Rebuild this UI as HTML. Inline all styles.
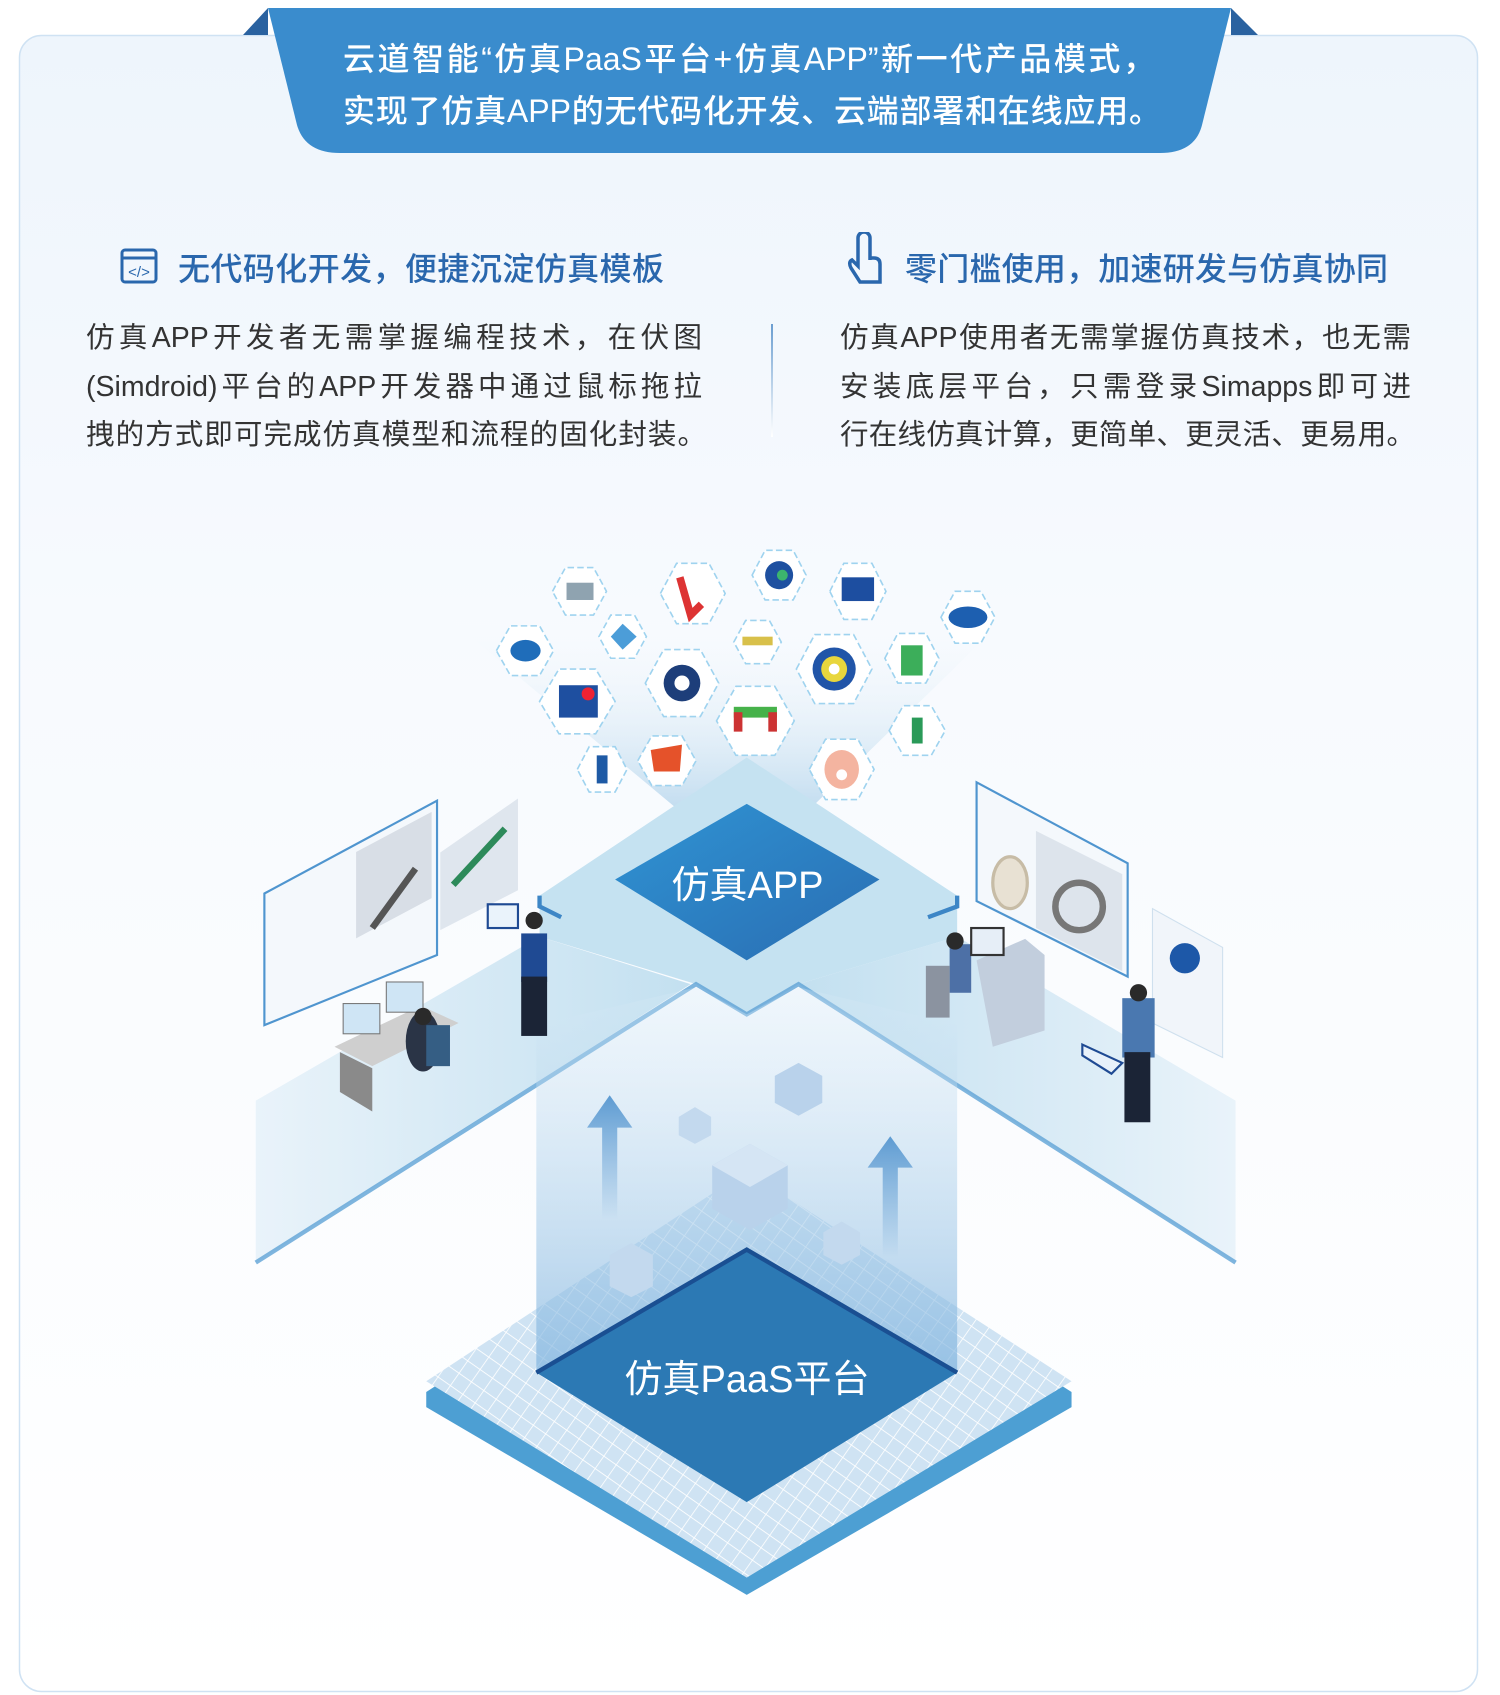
<!DOCTYPE html>
<html><head><meta charset="utf-8">
<style>
html,body{margin:0;padding:0;background:#fff;}
body{width:1500px;height:1695px;position:relative;overflow:hidden;font-family:"Liberation Sans","Noto Sans CJK SC",sans-serif;}
.t{position:absolute;white-space:nowrap;}
.j{position:absolute;white-space:nowrap;text-align:justify;text-align-last:justify;}
</style></head><body>
<svg width="1500" height="1695" viewBox="0 0 1500 1695" style="position:absolute;left:0;top:0">
<defs>
<linearGradient id="card" x1="0" y1="0" x2="0" y2="1"><stop offset="0" stop-color="#eef5fc"/><stop offset="0.35" stop-color="#f7fafe"/><stop offset="1" stop-color="#ffffff"/></linearGradient>
<linearGradient id="fan" x1="0" y1="0" x2="0" y2="1"><stop offset="0" stop-color="#ffffff" stop-opacity="0"/><stop offset="1" stop-color="#bcd9ee"/></linearGradient>
<linearGradient id="wingL" x1="0" y1="0" x2="1" y2="0"><stop offset="0" stop-color="#e9f3fa"/><stop offset="1" stop-color="#c3e0f0"/></linearGradient>
<linearGradient id="wingR" x1="1" y1="0" x2="0" y2="0"><stop offset="0" stop-color="#e9f3fa"/><stop offset="1" stop-color="#c3e0f0"/></linearGradient>
<linearGradient id="col" x1="0" y1="0" x2="0" y2="1"><stop offset="0" stop-color="#d7eaf6" stop-opacity="0.3"/><stop offset="1" stop-color="#7fb3de" stop-opacity="0.7"/></linearGradient>
<linearGradient id="app" x1="0" y1="0" x2="1" y2="1"><stop offset="0" stop-color="#2f94d4"/><stop offset="1" stop-color="#2a6db2"/></linearGradient>
<linearGradient id="arr" x1="0" y1="0" x2="0" y2="1"><stop offset="0" stop-color="#5d9bd2"/><stop offset="1" stop-color="#5d9bd2" stop-opacity="0"/></linearGradient>
<pattern id="grid" width="14" height="14" patternUnits="userSpaceOnUse" patternTransform="rotate(35)"><rect width="14" height="14" fill="#cfe3f3"/><path d="M0 0H14M0 0V14" stroke="#fff" stroke-width="1.5"/></pattern>
</defs>
<rect x="19.5" y="35.5" width="1458" height="1656" rx="22" fill="url(#card)" stroke="#cfe2f3" stroke-width="1.5"/>
<polygon points="243,35 268,8 268,35" fill="#2a62a0"/>
<polygon points="1258,35 1231,8 1231,35" fill="#2a62a0"/>
<path d="M268,8 H1231 L1202,125 Q1195,153 1160,153 H340 Q305,153 297,125 Z" fill="#3a8ccd"/>
<g transform="scale(1.0791)">
<polygon points="400,560 945,560 740,760 640,760" fill="url(#fan)"/>
<polygon points="237,1020 500,868 640,912 237,1170" fill="url(#wingL)"/>
<polygon points="1145,1020 887,868 740,912 1145,1170" fill="url(#wingR)"/>
<polygon points="500,830 692,702 887,830 887,868 740,912 692,940 645,912 500,868" fill="#c5e2f1"/>
<path d="M237,1170 L645,912 L692,940 L740,912 L1145,1170" fill="none" stroke="#5fa2d6" stroke-width="4" stroke-opacity="0.8"/>
<path d="M500,830 L500,840 L520,850 M887,830 L887,840 L860,850" fill="none" stroke="#3d86c6" stroke-width="4"/>
<polygon points="692,745 815,815 692,890 570,815" fill="url(#app)"/>
<polygon points="692,1098 993,1290 993,1304 692,1478 395,1304 395,1290" fill="#4d9fd3"/>
<polygon points="692,1085 993,1280 692,1462 395,1280" fill="url(#grid)"/>
<polygon points="497,950 645,915 692,940 740,915 887,950 887,1272 692,1158 497,1272" fill="url(#col)"/>
<polygon points="692,1158 887,1272 692,1392 497,1272" fill="#2c79b4"/>
<path d="M497,1272 L692,1158 L887,1272" fill="none" stroke="#1a4f92" stroke-width="4"/>
<polygon points="695,1060 730,1080 730,1120 695,1140 660,1120 660,1080" fill="#b9d2eb"/>
<polygon points="695,1060 730,1080 695,1100 660,1080" fill="#d5e5f4"/>
<polygon points="740,985 762,997 762,1022 740,1034 718,1022 718,997" fill="#b9d2eb"/>
<polygon points="644,1026 659,1035 659,1052 644,1060 629,1052 629,1035" fill="#c3d9ee"/>
<polygon points="585,1152 605,1163 605,1192 585,1202 565,1192 565,1163" fill="#c3d9ee"/>
<polygon points="780,1132 797,1142 797,1163 780,1172 763,1163 763,1142" fill="#c3d9ee"/>
<polygon points="565,1015 586,1045 572,1045 572,1130 558,1130 558,1045 544,1045" fill="url(#arr)"/>
<polygon points="825,1053 846,1082 832,1082 832,1165 818,1165 818,1082 804,1082" fill="url(#arr)"/>
<polygon points="245,828 405,742 405,885 245,950" fill="#f4f8fc" stroke="#4f95cf" stroke-width="2"/>
<rect x="330" y="790" width="70" height="80" fill="#d8dee6" transform="skewY(-28) translate(0,175)"/>
<polygon points="408,790 480,740 480,825 408,862" fill="#dfe6ee"/>
<line x1="420" y1="820" x2="468" y2="768" stroke="#2d8a5a" stroke-width="6"/>
<line x1="345" y1="860" x2="385" y2="805" stroke="#555" stroke-width="6"/>
<polygon points="310,970 390,932 425,948 345,988" fill="#cfcfcf"/>
<polygon points="315,975 345,990 345,1030 315,1012" fill="#8a8a8a"/>
<rect x="318" y="930" width="34" height="28" fill="#cfe5f5" stroke="#777"/>
<rect x="358" y="910" width="34" height="28" fill="#cfe5f5" stroke="#777"/>
<ellipse cx="392" cy="965" rx="16" ry="28" fill="#2a3446"/>
<rect x="395" y="950" width="22" height="38" fill="#355e84"/>
<circle cx="392" cy="942" r="8" fill="#2a2a2a"/>
<rect x="483" y="865" width="24" height="45" fill="#1f4a93"/>
<rect x="483" y="905" width="24" height="55" fill="#1b2436"/>
<circle cx="495" cy="853" r="8" fill="#2a2a2a"/>
<rect x="452" y="838" width="28" height="22" fill="#eaf3fb" stroke="#1f4a93" stroke-width="2"/>
<polygon points="905,725 1045,800 1045,905 905,835" fill="#f4f8fc" stroke="#4f95cf" stroke-width="2"/>
<polygon points="960,770 1040,810 1040,900 960,860" fill="#dde4ec"/>
<circle cx="1000" cy="840" r="22" fill="none" stroke="#777" stroke-width="6"/>
<ellipse cx="936" cy="818" rx="16" ry="24" fill="#e8e1d3" stroke="#c7bca6" stroke-width="3"/>
<polygon points="1068,842 1133,878 1133,980 1068,948" fill="#f1f5fa" stroke="#cfe0ee"/>
<circle cx="1098" cy="888" r="14" fill="#1d58a8"/>
<polygon points="905,890 950,870 968,885 968,955 920,970" fill="#c2cedd"/>
<rect x="880" y="875" width="20" height="45" fill="#4d70a6"/>
<circle cx="885" cy="872" r="8" fill="#2a2a2a"/>
<rect x="858" y="895" width="22" height="48" fill="#8b93a0"/>
<rect x="900" y="860" width="30" height="25" fill="#e6eef7" stroke="#333" stroke-width="2"/>
<rect x="1040" y="925" width="30" height="55" fill="#4a78b0"/>
<rect x="1042" y="975" width="24" height="65" fill="#1b2436"/>
<circle cx="1055" cy="920" r="8" fill="#2a2a2a"/>
<polygon points="1003,968 1040,985 1030,995 1003,978" fill="#e8f1fa" stroke="#1f4a93" stroke-width="2"/>
<g fill="#fff" stroke="#9fd3ef" stroke-width="1.5" stroke-dasharray="6 3">
<polygon points="512,548 524,526 550,526 562,548 550,570 524,570"/>
<polygon points="612,550 627,522 657,522 672,550 657,578 627,578"/>
<polygon points="697,533 709,510 735,510 747,533 735,556 709,556"/>
<polygon points="769,548 782,522 808,522 821,548 808,574 782,574"/>
<polygon points="872,572 885,548 909,548 922,572 909,596 885,596"/>
<polygon points="460,603 473,580 500,580 513,603 500,626 473,626"/>
<polygon points="555,590 566,570 588,570 599,590 588,610 566,610"/>
<polygon points="680,595 691,575 713,575 724,595 713,615 691,615"/>
<polygon points="738,620 755,588 791,588 808,620 791,652 755,652"/>
<polygon points="820,610 832,587 858,587 870,610 858,633 832,633"/>
<polygon points="500,650 518,620 552,620 570,650 552,680 518,680"/>
<polygon points="598,633 615,602 649,602 666,633 649,664 615,664"/>
<polygon points="664,668 682,636 718,636 736,668 718,700 682,700"/>
<polygon points="824,677 837,654 863,654 876,677 863,700 837,700"/>
<polygon points="535,713 546,692 570,692 581,713 570,734 546,734"/>
<polygon points="591,705 604,682 632,682 645,705 632,728 604,728"/>
<polygon points="750,713 765,685 795,685 810,713 795,741 765,741"/>
</g>
<g>
<rect x="525" y="540" width="25" height="16" fill="#8fa3b0"/>
<path d="M630,535 L640,570 L650,560" stroke="#d33" stroke-width="7" fill="none"/>
<circle cx="722" cy="533" r="13" fill="#1e50a0"/><circle cx="725" cy="533" r="5" fill="#3cb46e"/>
<rect x="780" y="535" width="30" height="22" fill="#1d4ea0"/>
<ellipse cx="897" cy="572" rx="18" ry="10" fill="#1d5fb0"/>
<ellipse cx="487" cy="603" rx="14" ry="10" fill="#1f6dba"/>
<polygon points="566,590 577,578 590,590 577,602" fill="#4c9dd8"/>
<rect x="688" y="590" width="28" height="8" fill="#d8c04a"/>
<circle cx="773" cy="620" r="20" fill="#2155a8"/><circle cx="773" cy="620" r="12" fill="#e8d63c"/><circle cx="773" cy="620" r="5" fill="#fff"/>
<rect x="835" y="598" width="20" height="28" fill="#3cae5a"/>
<rect x="518" y="635" width="36" height="30" fill="#1e4fa0"/><circle cx="545" cy="643" r="6" fill="#e23"/>
<circle cx="632" cy="633" r="17" fill="#1d3e7a"/><circle cx="632" cy="633" r="7" fill="#fff"/>
<rect x="680" y="655" width="40" height="10" fill="#46b24a"/><rect x="680" y="660" width="8" height="18" fill="#c33"/><rect x="712" y="660" width="8" height="18" fill="#c33"/>
<rect x="845" y="665" width="10" height="24" fill="#2a9a58"/>
<rect x="553" y="700" width="10" height="26" fill="#1e5aa5"/>
<polygon points="603,695 632,690 630,715 606,715" fill="#e5522a"/>
<ellipse cx="780" cy="713" rx="16" ry="18" fill="#f4b4a0"/><circle cx="780" cy="718" r="5" fill="#fff"/>
</g>
</g>
</svg>

<div class="j" style="left:343px;width:812px;top:33px;font-size:32px;line-height:52px;color:#fff;font-weight:500">云道智能“仿真PaaS平台+仿真APP”新一代产品模式，</div>
<div class="j" style="left:343px;width:818px;top:85px;font-size:32px;line-height:52px;color:#fff;font-weight:500">实现了仿真APP的无代码化开发、云端部署和在线应用。</div>

<svg style="position:absolute;left:119px;top:246px" width="42" height="40" viewBox="0 0 42 40"><rect x="3" y="4" width="34" height="32" rx="3" fill="none" stroke="#2a67ad" stroke-width="3"/><line x1="3" y1="12" x2="37" y2="12" stroke="#2a67ad" stroke-width="3"/><text x="20" y="31" font-size="15" text-anchor="middle" fill="#2a67ad" font-family="Liberation Sans">&lt;/&gt;</text></svg>
<div class="j" style="left:178px;width:486px;top:244px;font-size:32px;color:#2a67ad;font-weight:500">无代码化开发，便捷沉淀仿真模板</div>
<svg style="position:absolute;left:846px;top:232px" width="40" height="54" viewBox="0 0 40 54"><path d="M12 6 a6 6 0 0 1 12 0 V28 M12 6 V34 L6 28 Q2 30 5 36 L14 50 H34 V32 Q34 26 28 26 H24" fill="none" stroke="#2a67ad" stroke-width="3.5"/></svg>
<div class="j" style="left:905px;width:483px;top:244px;font-size:32px;color:#2a67ad;font-weight:500">零门槛使用，加速研发与仿真协同</div>

<div class="j" style="left:86px;width:616px;top:314px;font-size:28.5px;line-height:48.5px;color:#333">仿真APP开发者无需掌握编程技术，在伏图</div>
<div class="j" style="left:86px;width:616px;top:362.5px;font-size:28.5px;line-height:48.5px;color:#333">(Simdroid)平台的APP开发器中通过鼠标拖拉</div>
<div class="j" style="left:86px;width:620px;top:411px;font-size:28.5px;line-height:48.5px;color:#333">拽的方式即可完成仿真模型和流程的固化封装。</div>
<div style="position:absolute;left:771px;top:324px;width:2px;height:113px;background:linear-gradient(#6b9ed0,#fff)"></div>
<div class="j" style="left:840px;width:571px;top:314px;font-size:28.5px;line-height:48.5px;color:#333">仿真APP使用者无需掌握仿真技术，也无需</div>
<div class="j" style="left:840px;width:571px;top:362.5px;font-size:28.5px;line-height:48.5px;color:#333">安装底层平台，只需登录Simapps即可进</div>
<div class="j" style="left:840px;width:575px;top:411px;font-size:28.5px;line-height:48.5px;color:#333">行在线仿真计算，更简单、更灵活、更易用。</div>

<div class="t" style="left:600px;width:295px;text-align:center;top:854px;font-size:38px;color:#fff">仿真APP</div>
<div class="t" style="left:547px;width:400px;text-align:center;top:1348px;font-size:38px;color:#fff">仿真PaaS平台</div>
</body></html>
